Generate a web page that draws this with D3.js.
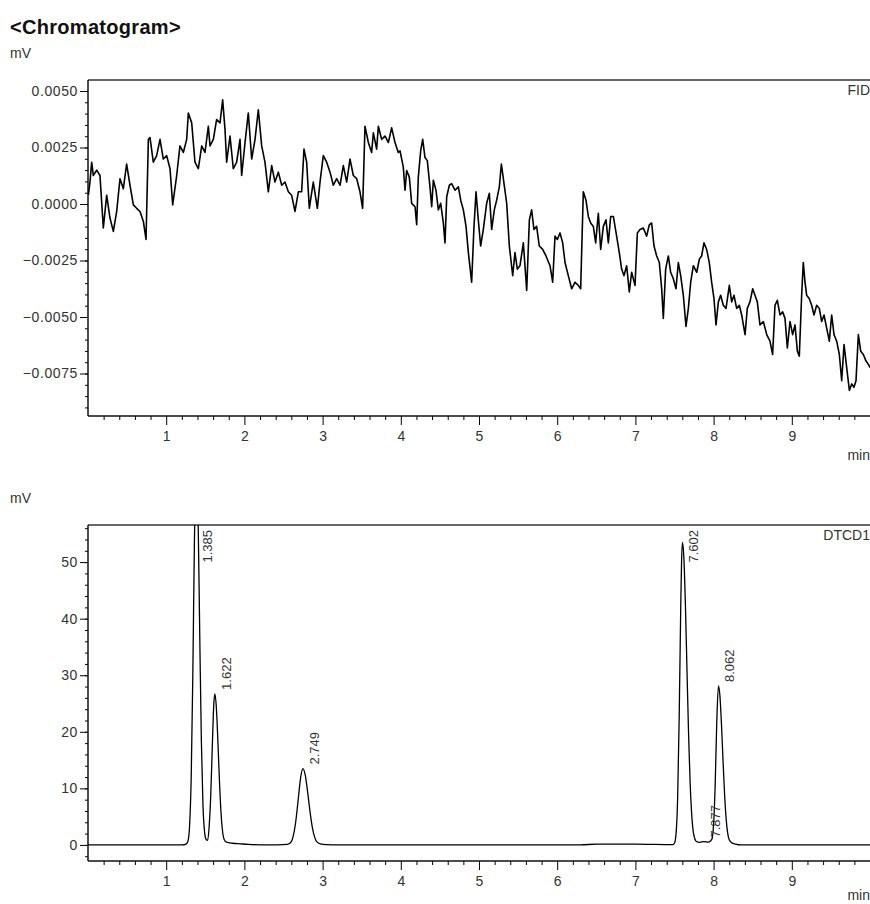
<!DOCTYPE html>
<html>
<head>
<meta charset="utf-8">
<script src="https://cdn.jsdelivr.net/npm/d3@7"></script>
<style>
	body { margin: 0; background: #fff; }
	text { font-family: "Liberation Sans", Arial, sans-serif; fill: #333; }
</style>
</head>
<body>
<div id="chartgoeshere"></div>
<script>
// FID trace [min, mV]
var fidTrace = [
	[0.005, 0.0004], [0.026, 0.0010], [0.047, 0.00185], [0.068, 0.00126], [0.111, 0.0015], [0.153, 0.00126],
	[0.196, -0.00106], [0.239, 0.00039], [0.281, -0.00062], [0.324, -0.00121], [0.367, -0.00033], [0.409, 0.00112],
	[0.452, 0.00068], [0.494, 0.00177], [0.537, 0.00083], [0.580, -0.00004], [0.622, -0.00019], [0.665, -0.00033],
	[0.708, -0.00077], [0.742, -0.00157], [0.772, 0.00286], [0.793, 0.00294], [0.835, 0.00185], [0.878, 0.00214],
	[0.921, 0.00286], [0.963, 0.00199], [1.006, 0.00214], [1.049, 0.00156], [1.083, -0.00004], [1.134, 0.00126],
	[1.176, 0.00257], [1.219, 0.00228], [1.262, 0.00286], [1.283, 0.00403], [1.326, 0.00359], [1.368, 0.00185],
	[1.411, 0.00156], [1.454, 0.00257], [1.496, 0.00228], [1.539, 0.00344], [1.560, 0.00257], [1.603, 0.00286],
	[1.645, 0.00374], [1.688, 0.00359], [1.722, 0.00461], [1.752, 0.00330], [1.773, 0.00185], [1.816, 0.00301],
	[1.858, 0.00156], [1.901, 0.00185], [1.944, 0.00286], [1.965, 0.00126], [2.008, 0.00272], [2.050, 0.00403],
	[2.093, 0.00199], [2.136, 0.00286], [2.178, 0.00417], [2.221, 0.00257], [2.263, 0.00185], [2.306, 0.00054],
	[2.349, 0.00170], [2.391, 0.00097], [2.434, 0.00141], [2.477, 0.00083], [2.519, 0.00097], [2.562, 0.00054],
	[2.604, 0.00039], [2.647, -0.00033], [2.690, 0.00054], [2.732, 0.00054], [2.762, 0.00243], [2.796, 0.00185],
	[2.830, -0.00019], [2.881, 0.00097], [2.933, -0.00019], [2.967, 0.00097], [3.009, 0.00214], [3.052, 0.00185],
	[3.095, 0.00141], [3.137, 0.00083], [3.180, 0.00112], [3.223, 0.00083], [3.265, 0.00170], [3.308, 0.00097],
	[3.350, 0.00199], [3.393, 0.00126], [3.436, 0.00112], [3.478, 0.00054], [3.512, -0.00019], [3.542, 0.00344],
	[3.585, 0.00272], [3.627, 0.00228], [3.649, 0.00315], [3.691, 0.00243], [3.713, 0.00344], [3.755, 0.00286],
	[3.798, 0.00301], [3.841, 0.00272], [3.883, 0.00337], [3.926, 0.00272], [3.968, 0.00228], [3.990, 0.00235],
	[4.032, 0.00163], [4.054, 0.00061], [4.075, 0.00148], [4.109, 0.00119], [4.139, 0.00003], [4.182, -0.00012],
	[4.203, -0.00092], [4.224, 0.00119], [4.254, 0.00235], [4.280, 0.00286], [4.309, 0.00206], [4.339, 0.00192],
	[4.373, 0.00076], [4.395, -0.00012], [4.416, 0.00105], [4.450, 0.00061], [4.480, -0.00026], [4.510, 0.00003],
	[4.544, -0.00084], [4.565, -0.00172], [4.587, 0.00032], [4.621, 0.00083], [4.650, 0.00090], [4.693, 0.00061],
	[4.736, 0.00076], [4.766, 0.00017], [4.800, -0.00026], [4.834, -0.00099], [4.864, -0.00215], [4.906, -0.00346],
	[4.936, -0.00099], [4.962, 0.00054], [4.991, -0.00070], [5.021, -0.00186], [5.055, -0.00113], [5.098, 0.00003],
	[5.132, 0.00047], [5.162, -0.00113], [5.196, -0.00026], [5.226, 0.00017], [5.260, 0.00076], [5.286, 0.00177],
	[5.320, 0.00090], [5.354, 0.00003], [5.388, -0.00186], [5.431, -0.00317], [5.460, -0.00215], [5.490, -0.00288],
	[5.524, -0.00273], [5.567, -0.00172], [5.610, -0.00382], [5.644, -0.00070], [5.673, -0.00026], [5.703, -0.00113],
	[5.737, -0.00099], [5.771, -0.00186], [5.814, -0.00201], [5.857, -0.00230], [5.908, -0.00273], [5.942, -0.00346],
	[5.972, -0.00142], [6.002, -0.00157], [6.036, -0.00128], [6.070, -0.00172], [6.100, -0.00259], [6.142, -0.00317],
	[6.185, -0.00375], [6.228, -0.00346], [6.270, -0.00360], [6.300, -0.00375], [6.334, 0.00054], [6.368, 0.00017],
	[6.398, -0.00055], [6.428, -0.00084], [6.462, -0.00099], [6.492, -0.00172], [6.526, -0.00041], [6.556, -0.00201],
	[6.590, -0.00099], [6.624, -0.00070], [6.654, -0.00172], [6.684, -0.00055], [6.718, -0.00055], [6.760, -0.00142],
	[6.794, -0.00215], [6.824, -0.00288], [6.854, -0.00317], [6.888, -0.00273], [6.922, -0.00389], [6.952, -0.00302],
	[6.995, -0.00360], [7.025, -0.00128], [7.059, -0.00113], [7.101, -0.00106], [7.144, -0.00142], [7.178, -0.00092],
	[7.208, -0.00084], [7.238, -0.00186], [7.272, -0.00230], [7.306, -0.00259], [7.336, -0.00375], [7.357, -0.00506],
	[7.387, -0.00288], [7.421, -0.00230], [7.451, -0.00302], [7.485, -0.00331], [7.519, -0.00375], [7.549, -0.00259],
	[7.579, -0.00317], [7.613, -0.00404], [7.647, -0.00542], [7.677, -0.00462], [7.707, -0.00346], [7.741, -0.00273],
	[7.784, -0.00302], [7.818, -0.00244], [7.847, -0.00230], [7.877, -0.00172], [7.911, -0.00201], [7.945, -0.00259],
	[7.975, -0.00346], [8.005, -0.00419], [8.031, -0.00535], [8.061, -0.00433], [8.090, -0.00404], [8.124, -0.00448],
	[8.159, -0.00462], [8.201, -0.00360], [8.231, -0.00433], [8.261, -0.00404], [8.295, -0.00462], [8.329, -0.00448],
	[8.359, -0.00491], [8.402, -0.00578], [8.431, -0.00462], [8.465, -0.00433], [8.500, -0.00375], [8.529, -0.00404],
	[8.559, -0.00433], [8.593, -0.00535], [8.636, -0.00520], [8.679, -0.00578], [8.721, -0.00607], [8.755, -0.00666],
	[8.785, -0.00448], [8.815, -0.00426], [8.849, -0.00491], [8.883, -0.00477], [8.913, -0.00506], [8.943, -0.00637],
	[8.977, -0.00520], [9.011, -0.00578], [9.041, -0.00535], [9.071, -0.00651], [9.096, -0.00673], [9.126, -0.00404],
	[9.147, -0.00259], [9.169, -0.00346], [9.190, -0.00404], [9.224, -0.00419], [9.254, -0.00448], [9.284, -0.00491],
	[9.318, -0.00448], [9.352, -0.00462], [9.382, -0.00520], [9.412, -0.00491], [9.446, -0.00549], [9.480, -0.00607],
	[9.510, -0.00491], [9.540, -0.00578], [9.574, -0.00607], [9.608, -0.00666], [9.638, -0.00782], [9.668, -0.00622],
	[9.702, -0.00724], [9.736, -0.00825], [9.766, -0.00796], [9.795, -0.00811], [9.821, -0.00782], [9.851, -0.00578],
	[9.881, -0.00651], [9.915, -0.00666], [9.949, -0.00695], [9.979, -0.00709], [10.0, -0.00724]
];

// DTCD1 trace [min, mV]
var tcdTrace = [
	[0, 0], [1.20, 0], [1.26, 0.2], [1.28, 0.75], [1.30, 3.6], [1.32, 12.1], [1.34, 29.7], [1.36, 52.7],
	[1.375, 65.3], [1.385, 68], [1.395, 65.9], [1.41, 55.9], [1.43, 36.1], [1.45, 18.2], [1.47, 7.1], [1.49, 2.4],
	[1.51, 1.0], [1.53, 0.8], [1.55, 3.4], [1.57, 8.9], [1.59, 17.6], [1.61, 25.2], [1.622, 26.7], [1.64, 24.6],
	[1.66, 18.7], [1.68, 11.6], [1.70, 5.9], [1.72, 2.5], [1.74, 1.0], [1.77, 0.5], [1.85, 0.3], [1.95, 0.2],
	[2.05, 0.1], [2.3, 0], [2.55, 0.1], [2.60, 0.6], [2.63, 1.9], [2.66, 4.5], [2.69, 8.3], [2.72, 12.0],
	[2.749, 13.5], [2.78, 12.2], [2.81, 9.2], [2.84, 5.8], [2.87, 3.0], [2.90, 1.3], [2.93, 0.5], [2.97, 0.2],
	[3.05, 0.05], [3.2, 0], [6.3, 0], [6.5, 0.15], [7.0, 0.15], [7.48, 0.05], [7.50, 0.33], [7.52, 2.0],
	[7.54, 8.2], [7.56, 22.6], [7.58, 42.2], [7.59, 49.9], [7.602, 53.5], [7.62, 50.7], [7.64, 42.2], [7.66, 30.7],
	[7.68, 19.6], [7.70, 10.9], [7.72, 5.4], [7.74, 2.3], [7.76, 1.1], [7.78, 0.6], [7.82, 0.45], [7.877, 0.6],
	[7.93, 0.5], [7.96, 0.7], [7.98, 1.1], [8.00, 3.7], [8.02, 10.5], [8.04, 21.5], [8.062, 28.1], [8.08, 26.5],
	[8.10, 21.5], [8.12, 15.1], [8.14, 9.1], [8.16, 4.7], [8.18, 2.1], [8.20, 0.9], [8.23, 0.4], [8.28, 0.15],
	[8.35, 0], [10, 0]
];

// Peak table (retention time label and apex height)
var peakTimes = [1.385, 1.622, 2.749, 7.602, 7.877, 8.062];
var peakHeights = [68, 26.7, 13.5, 53.5, 0.6, 28.1];

// Tick values
var timeTicks = [1, 2, 3, 4, 5, 6, 7, 8, 9];
var fidTicks = [0.005, 0.0025, 0, -0.0025, -0.005, -0.0075];
var tcdTicks = [0, 10, 20, 30, 40, 50];

// Layout
var width = 870,
	height = 904,
	plotLeft = 88,
	plotRight = 870;

var svg = d3.select("#chartgoeshere")
	.append("svg")
	.attr("width", width)
	.attr("height", height);

// Title
svg.append("text")
	.attr("x", 10)
	.attr("y", 34)
	.style("font-size", "20px")
	.style("font-weight", "bold")
	.style("letter-spacing", "0.3px")
	.style("fill", "#111")
	.text("<Chromatogram>");

var x = d3.scaleLinear()
	.domain([0, 10])
	.range([plotLeft, plotRight]);

// minor ticks every 0.2 min
var minorTime = d3.range(1, 50).map(function (i) { return i / 5; })
	.filter(function (d) { return Math.abs(d - Math.round(d)) > 1e-6; });

function drawPanel(opt) {
	var y = d3.scaleLinear()
		.domain(opt.domain)
		.range([opt.bottom, opt.top]);

	var g = svg.append("g");

	// mV unit label
	g.append("text")
		.attr("x", 10)
		.attr("y", opt.top - 22)
		.style("font-size", "14px")
		.text("mV");

	// clip for the trace
	g.append("clipPath")
		.attr("id", opt.id + "-clip")
		.append("rect")
		.attr("x", plotLeft)
		.attr("y", opt.top)
		.attr("width", plotRight - plotLeft)
		.attr("height", opt.bottom - opt.top);

	// Minor ticks
	g.append("g")
		.attr("transform", "translate(" + plotLeft + ",0)")
		.call(d3.axisLeft(y).tickValues(opt.minor).tickSize(3).tickSizeOuter(0).tickFormat(""))
		.call(function (s) { s.select(".domain").remove(); });

	g.append("g")
		.attr("transform", "translate(0," + opt.bottom + ")")
		.call(d3.axisBottom(x).tickValues(minorTime).tickSize(4).tickSizeOuter(0).tickFormat(""))
		.call(function (s) { s.select(".domain").remove(); });

	// Major y ticks
	var yAxis = g.append("g")
		.attr("transform", "translate(" + plotLeft + ",0)")
		.call(d3.axisLeft(y).tickValues(opt.ticks).tickSize(8).tickSizeOuter(0).tickPadding(2)
			.tickFormat(opt.format));
	yAxis.select(".domain").remove();
	yAxis.selectAll("text")
		.style("font-size", "14px")
		.style("letter-spacing", "0.6px")
		.style("font-family", "'Liberation Sans', Arial, sans-serif")
		.style("fill", "#333");

	// Major x ticks
	var xAxis = g.append("g")
		.attr("transform", "translate(0," + opt.bottom + ")")
		.call(d3.axisBottom(x).tickValues(timeTicks).tickSize(9).tickSizeOuter(0).tickPadding(6)
			.tickFormat(d3.format("d")));
	xAxis.select(".domain").remove();
	xAxis.selectAll("text")
		.style("font-size", "14px")
		.style("font-family", "'Liberation Sans', Arial, sans-serif")
		.style("fill", "#333");

	// Frame: top border gray, left and bottom black
	g.append("line")
		.attr("x1", plotLeft).attr("x2", plotRight)
		.attr("y1", opt.top).attr("y2", opt.top)
		.attr("stroke", "#666").attr("stroke-width", 2);
	g.append("line")
		.attr("x1", plotLeft).attr("x2", plotLeft)
		.attr("y1", opt.top).attr("y2", opt.bottom)
		.attr("stroke", "#111").attr("stroke-width", 1.5);
	g.append("line")
		.attr("x1", plotLeft).attr("x2", plotRight)
		.attr("y1", opt.bottom).attr("y2", opt.bottom)
		.attr("stroke", "#111").attr("stroke-width", 1.5);

	// Trace
	var line = d3.line()
		.x(function (d) { return x(d[0]); })
		.y(function (d) { return y(d[1]); })
		.curve(opt.curve);

	g.append("path")
		.datum(opt.data)
		.attr("clip-path", "url(#" + opt.id + "-clip)")
		.attr("fill", "none")
		.attr("stroke", "#000")
		.attr("stroke-width", opt.stroke)
		.attr("stroke-linejoin", "round")
		.attr("d", line);

	// Detector name, top right
	g.append("text")
		.attr("x", plotRight)
		.attr("y", opt.top + 15)
		.attr("text-anchor", "end")
		.style("font-size", "14px")
		.text(opt.name);

	// Axis unit
	g.append("text")
		.attr("x", plotRight)
		.attr("y", Math.min(opt.bottom + 44, height - 4))
		.attr("text-anchor", "end")
		.style("font-size", "14px")
		.text("min");

	return y;
}

// Top panel: FID
drawPanel({
	id: "fid",
	top: 80,
	bottom: 416,
	domain: [-0.00938, 0.005487],
	ticks: fidTicks,
	minor: d3.range(-18, 11).map(function (i) { return i * 0.0005; }),
	format: d3.format(".4f"),
	data: fidTrace,
	curve: d3.curveLinear,
	stroke: 1.6,
	name: "FID"
});

// Bottom panel: DTCD1
var yTcd = drawPanel({
	id: "tcd",
	top: 525,
	bottom: 861,
	domain: [-2.84, 56.56],
	ticks: tcdTicks,
	minor: d3.range(-1, 29).map(function (i) { return i * 2; }),
	format: d3.format("d"),
	data: tcdTrace,
	curve: d3.curveMonotoneX,
	stroke: 1.3,
	name: "DTCD1"
});

// Peak retention-time labels, rotated
peakTimes.forEach(function (t, i) {
	var apexY = yTcd(Math.min(peakHeights[i], 56.56));
	var lab = svg.append("text")
		.style("font-size", "13px")
		.text(d3.format(".3f")(t));
	var len = lab.node().getComputedTextLength();
	var startY = Math.max(apexY - 4, 525 + 5 + len);
	lab.attr("transform", "translate(" + (x(t) + 16) + "," + startY + ") rotate(-90)");
});
</script>
</body>
</html>
